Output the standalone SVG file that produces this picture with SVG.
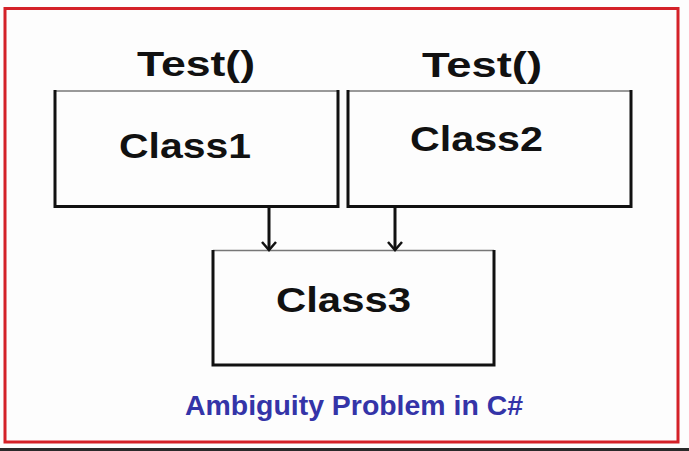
<svg xmlns="http://www.w3.org/2000/svg" width="689" height="451" viewBox="0 0 689 451">
<style>
.frame{fill:none;stroke:#d42128;stroke-width:3}
.top{stroke:#777;stroke-width:1.5;fill:none}
.side{stroke:#111;stroke-width:3;fill:none}
.lbl{font-family:"Liberation Sans",Arial,sans-serif;font-weight:bold;fill:#111}
.cap{font-family:"Liberation Sans",Arial,sans-serif;font-weight:bold;fill:#3434a8;font-size:28px}
.conn{stroke:#111;stroke-width:3;fill:none}
.head{stroke:#111;stroke-width:2.5;fill:none;stroke-linejoin:miter}
</style>
<rect width="689" height="451" fill="#fdfdfd"/>
<rect class="frame" x="5" y="8.5" width="673" height="433.5"/>
<rect x="0" y="448" width="689" height="3" fill="#2a2a2a"/>
<g id="class1">
<line class="top" x1="55" y1="91" x2="338" y2="91"/>
<path class="side" d="M55,90 V206.5 H338 V90"/>
<text class="lbl" x="137" y="76" font-size="35" textLength="118" lengthAdjust="spacingAndGlyphs">Test()</text>
<text class="lbl" x="119" y="158" font-size="35" textLength="132" lengthAdjust="spacingAndGlyphs">Class1</text>
</g>
<g id="class2">
<line class="top" x1="348" y1="91" x2="631" y2="91"/>
<path class="side" d="M348,90 V206.5 H631 V90"/>
<text class="lbl" x="422" y="77" font-size="35" textLength="120" lengthAdjust="spacingAndGlyphs">Test()</text>
<text class="lbl" x="410" y="151" font-size="35" textLength="133" lengthAdjust="spacingAndGlyphs">Class2</text>
</g>
<g id="class3">
<line class="top" x1="213" y1="250.5" x2="494" y2="250.5"/>
<path class="side" d="M213,250 V365 H494 V250"/>
<text class="lbl" x="276" y="312" font-size="35" textLength="135" lengthAdjust="spacingAndGlyphs">Class3</text>
</g>
<g id="connectors">
<line class="conn" x1="269" y1="207" x2="269" y2="250"/>
<polyline class="head" points="262,242 269,250 276,242"/>
<line class="conn" x1="395" y1="207" x2="395" y2="250"/>
<polyline class="head" points="388,242 395,250 402,242"/>
</g>
<g id="caption">
<text class="cap" x="185" y="415" textLength="338" lengthAdjust="spacingAndGlyphs">Ambiguity Problem in C#</text>
</g>
</svg>
